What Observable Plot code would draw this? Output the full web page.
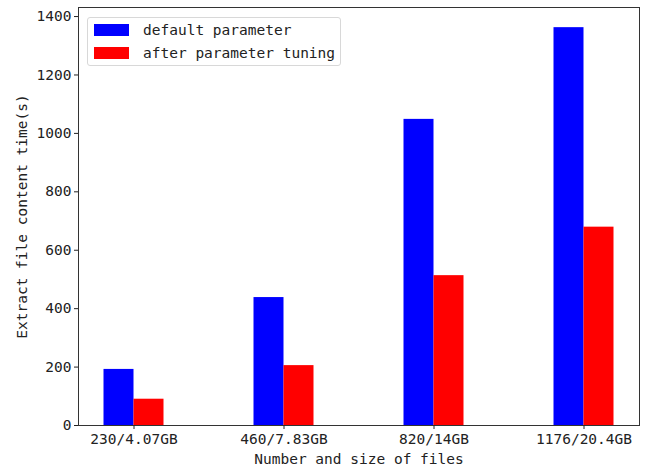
<!DOCTYPE html>
<html>
<head>
<meta charset="utf-8">
<script src="https://cdn.jsdelivr.net/npm/d3@7"></script>
<script src="https://cdn.jsdelivr.net/npm/@observablehq/plot@0.6"></script>
<style>
  html, body { margin: 0; padding: 0; background: #fff; }
  #wrap { position: relative; width: 646px; height: 469px; font-family: "DejaVu Sans Mono", monospace; }
  #legend { position: absolute; left: 87px; top: 17px; width: 254px; height: 49px;
    border: 1px solid #d8d8d8; border-radius: 3px; background: #fff; box-sizing: border-box; }
  .item { position: absolute; left: 6px; height: 12px; display: flex; align-items: center; }
  .sw { width: 35px; height: 12px; margin-right: 14px; }
  .lt { font-size: 14.5px; color: #222; white-space: nowrap; }
</style>
</head>
<body>
<div id="wrap"></div>
<script>
const categories = ["230/4.07GB", "460/7.83GB", "820/14GB", "1176/20.4GB"];
const seriesNames = ["default parameter", "after parameter tuning"];
const seriesColors = ["#0000ff", "#ff0000"];
const defaultParam = [192, 438, 1048, 1362];
const afterTuning = [90, 205, 513, 679];
const yTicks = [0, 200, 400, 600, 800, 1000, 1200, 1400];
const xLabel = "Number and size of files";
const yLabel = "Extract file content time(s)";

const values = [defaultParam, afterTuning];
const data = categories.flatMap((c, i) => values.map((vals, s) => ({i, s, cat: c, v: vals[i]})));
const barW = 0.2;

const chart = Plot.plot({
  width: 646,
  height: 469,
  marginLeft: 78,
  marginRight: 7,
  marginTop: 7,
  marginBottom: 44,
  style: {fontFamily: "'DejaVu Sans Mono', monospace", fontSize: "14.5px", color: "#222", background: "#fff"},
  x: {domain: [-0.37, 3.37]},
  y: {domain: [0, 1431]},
  marks: [
    Plot.rectY(data, {
      x1: d => d.i - barW + d.s * barW,
      x2: d => d.i + d.s * barW,
      y1: 0,
      y2: "v",
      fill: d => seriesColors[d.s]
    }),
    Plot.frame({stroke: "#333", strokeWidth: 1}),
    Plot.axisX({ticks: [0, 1, 2, 3], tickFormat: i => categories[i], tickSize: 4, tickPadding: 4, label: null, fontSize: 14.5}),
    Plot.axisY({ticks: yTicks, tickFormat: d => String(d), tickSize: 4, tickPadding: 3, label: null, fontSize: 14.5}),
    Plot.text([xLabel], {frameAnchor: "bottom", dy: 38, textAnchor: "middle", fontSize: 14.5, fill: "#222"}),
    Plot.text([yLabel], {frameAnchor: "left", rotate: -90, dx: -56, textAnchor: "middle", fontSize: 14.5, fill: "#222"})
  ]
});

const wrap = document.getElementById("wrap");
wrap.appendChild(chart);

const legend = document.createElement("div");
legend.id = "legend";
seriesNames.forEach((name, k) => {
  const item = document.createElement("div");
  item.className = "item";
  item.style.top = (6 + k * 23) + "px";
  const sw = document.createElement("div");
  sw.className = "sw";
  sw.style.background = seriesColors[k];
  const lt = document.createElement("span");
  lt.className = "lt";
  lt.textContent = name;
  item.appendChild(sw);
  item.appendChild(lt);
  legend.appendChild(item);
});
wrap.appendChild(legend);
</script>
</body>
</html>
